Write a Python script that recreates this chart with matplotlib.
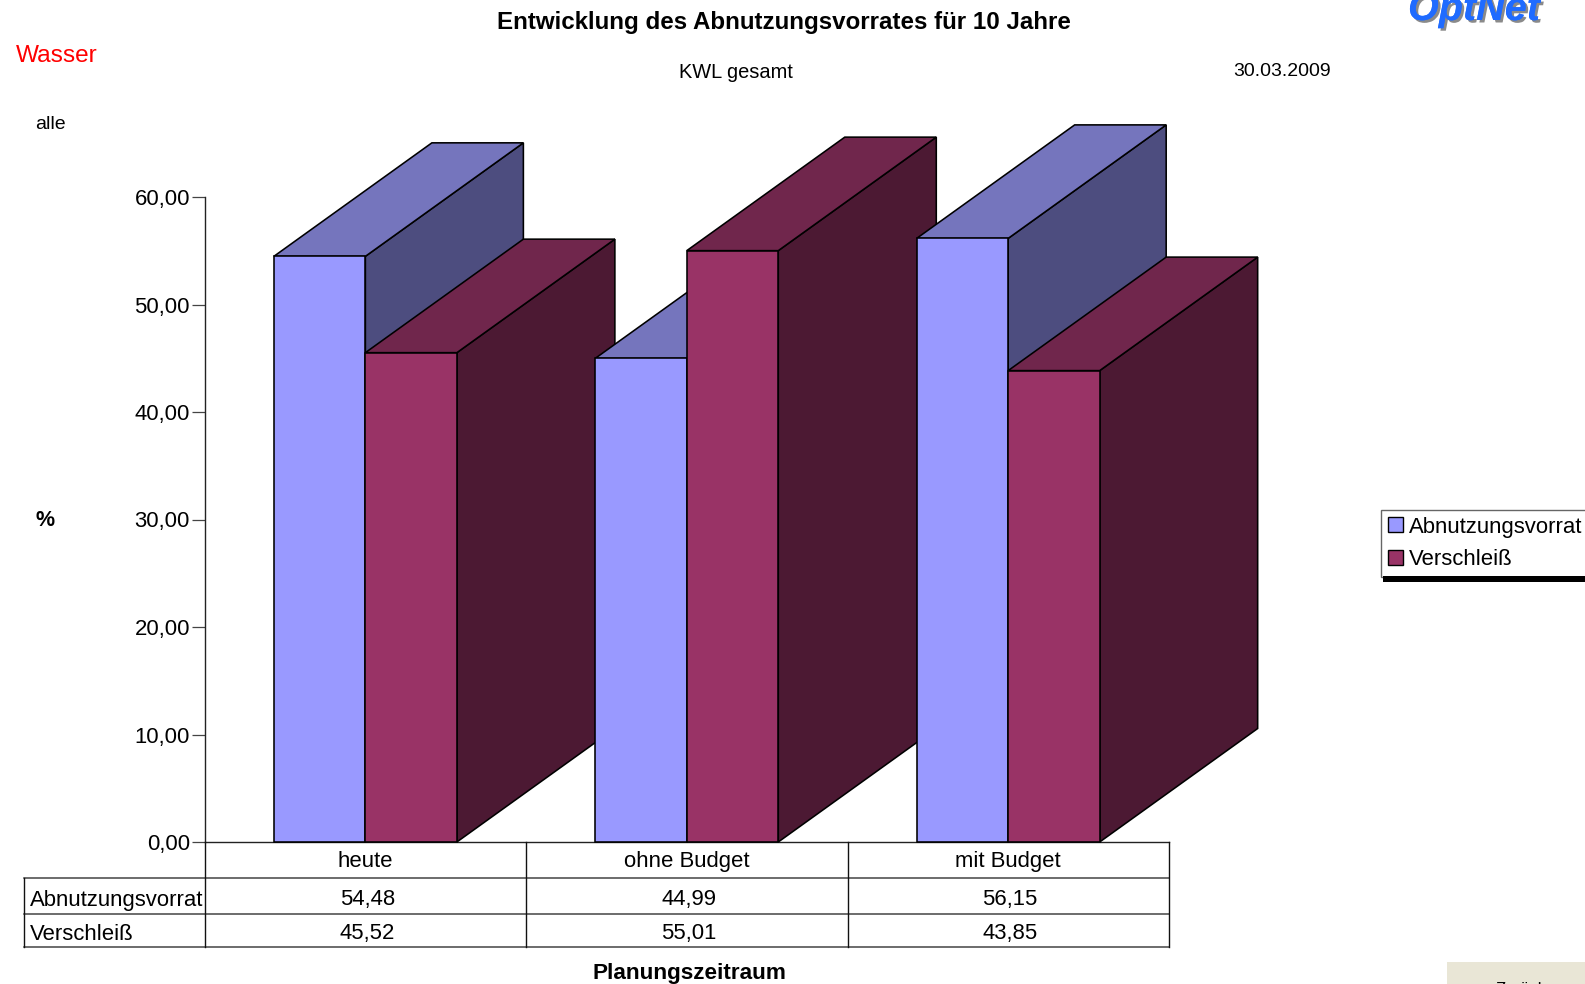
import matplotlib
matplotlib.use("Agg")
import matplotlib.pyplot as plt
import matplotlib.patheffects as pe
from matplotlib.lines import Line2D
from matplotlib.patches import Patch, Rectangle

categories = ["heute", "ohne Budget", "mit Budget"]
abnutzungsvorrat = [54.48, 44.99, 56.15]
verschleiss = [45.52, 55.01, 43.85]
series_names = ["Abnutzungsvorrat", "Verschleiß"]
y_ticks = [0, 10, 20, 30, 40, 50, 60]

W, H = 1585, 984
plt.rcParams["font.family"] = ["Liberation Sans", "DejaVu Sans"]
fig = plt.figure(figsize=(W / 100, H / 100), dpi=100, facecolor="white")

def fx(px): return px / W
def fy(py): return 1 - py / H
def ftext(px, py, s, **kw):
    kw.setdefault("va", "center")
    return fig.text(fx(px), fy(py), s, **kw)

# Axes area in pixels
L, R, T, B = 205.0, 1169.2, 197.0, 842.0
FS = 15.95
ax = fig.add_axes([fx(L), fy(B), (R - L) / W, (B - T) / H])
ax.set_xlim(0, 3)
ax.set_ylim(0, 60)
ax.patch.set_alpha(0)
for s in ("top", "right"):
    ax.spines[s].set_visible(False)
for s in ("left", "bottom"):
    ax.spines[s].set_color("#222222")
    ax.spines[s].set_linewidth(1.0)
ax.set_xticks([])
ax.set_yticks(y_ticks)
ax.set_yticklabels([f"{v},00" for v in y_ticks], fontsize=FS)
ax.tick_params(axis="y", length=9.3, width=0.9, color="#444444", pad=1.5)

bar_w = 91.5 / (R - L) * 3
depth_x = 158.0 / (R - L) * 3
depth_y = 113.5 / (B - T) * 60
styles = [("#9999FF", "#7575BD", "#4D4D7F"), ("#993366", "#70264C", "#4C1933")]
ec = "black"
lw = 1.15
z = 3
for i in range(len(categories)):
    c = i + 0.499
    for j, vals in enumerate([abnutzungsvorrat, verschleiss]):
        v = vals[i]
        x0 = c - bar_w + j * bar_w
        x1 = x0 + bar_w
        front, top, side = styles[j]
        ax.fill([x1, x1 + depth_x, x1 + depth_x, x1],
                [0, depth_y, v + depth_y, v],
                fc=side, ec=ec, lw=lw, zorder=z, clip_on=False)
        ax.fill([x0, x1, x1 + depth_x, x0 + depth_x],
                [v, v, v + depth_y, v + depth_y],
                fc=top, ec=ec, lw=lw, zorder=z, clip_on=False)
        ax.bar(x0, v, width=bar_w, align="edge", fc=front, ec=ec, lw=lw,
               zorder=z, clip_on=False)
        z += 1

# Data table under the axis
rows_px = [B, 877.5, 913.5, 947.0]
left_px = 24.0
grid = "#444444"
for p in rows_px[1:]:
    fig.add_artist(Line2D([fx(left_px), fx(R)], [fy(p), fy(p)], color=grid, lw=1.1))
for i in range(len(categories) + 1):
    x = L + i * (R - L) / 3
    fig.add_artist(Line2D([fx(x), fx(x)], [fy(B), fy(rows_px[-1])], color="#111111", lw=1.0))
fig.add_artist(Line2D([fx(left_px), fx(left_px)], [fy(rows_px[1]), fy(rows_px[-1])], color="#111111", lw=1.0))

for i, name in enumerate(categories):
    x = L + (i + 0.499) * (R - L) / 3
    ftext(x, 861.5, name, ha="center", fontsize=FS)
    ftext(x + 2, 899.5, f"{abnutzungsvorrat[i]:.2f}".replace(".", ","), ha="center", fontsize=FS)
    ftext(x + 2, 933.5, f"{verschleiss[i]:.2f}".replace(".", ","), ha="center", fontsize=FS)
ftext(29.5, 900.5, series_names[0], ha="left", fontsize=FS)
ftext(29.5, 934.5, series_names[1], ha="left", fontsize=FS)

# Titles and captions
ftext(784, 23, "Entwicklung des Abnutzungsvorrates für 10 Jahre", ha="center", fontsize=17.4, fontweight="bold")
ftext(16, 55.5, "Wasser", ha="left", fontsize=17.6, color="#FF0000")
ftext(735.5, 72.5, "KWL gesamt", ha="center", fontsize=14.4)
ftext(1331, 72, "30.03.2009", ha="right", fontsize=14)
ftext(35, 124.5, "alle", ha="left", fontsize=14)
ftext(45, 520.5, "%", ha="center", fontsize=15.5, fontweight="bold")
ftext(689, 973, "Planungszeitraum", ha="center", fontsize=16.2, fontweight="bold")

# Logo, cut by the top edge
logo = fig.text(fx(1408), fy(20), "OptNet", ha="left", va="baseline", fontsize=28.5,
                fontweight="bold", fontstyle="italic", color="#1F6BFF")
logo.set_path_effects([pe.withSimplePatchShadow(offset=(1.8, -1.8), shadow_rgbFace="#8A8A8A", alpha=1.0),
                       pe.Normal()])

# Legend with a hard shadow
fig.add_artist(Rectangle((fx(1383), fy(582)), (W - 1383) / W, 6 / H, transform=fig.transFigure,
                         fc="black", ec="none", zorder=6))
handles = [Patch(fc=styles[0][0], ec="black", lw=1.0), Patch(fc=styles[1][0], ec="black", lw=1.0)]
leg = fig.legend(handles, series_names, loc="upper left",
                 bbox_to_anchor=(fx(1381), fy(510)), bbox_transform=fig.transFigure,
                 borderaxespad=0, fontsize=FS, frameon=True, fancybox=False, framealpha=1,
                 edgecolor="#666666", borderpad=0.3, handlelength=0.68, handleheight=0.68,
                 handletextpad=0.3, labelspacing=0.52)
leg.get_frame().set_linewidth(1.0)

# Button cut by the bottom edge
fig.add_artist(Rectangle((fx(1447), 0), (W - 1447) / W, (H - 962) / H, transform=fig.transFigure,
                         fc="#E9E6D6", ec="none"))
fig.text(fx(1495), fy(982), "Zurück", ha="left", va="top", fontsize=12, color="black")

fig.savefig("out.png", dpi=100)
